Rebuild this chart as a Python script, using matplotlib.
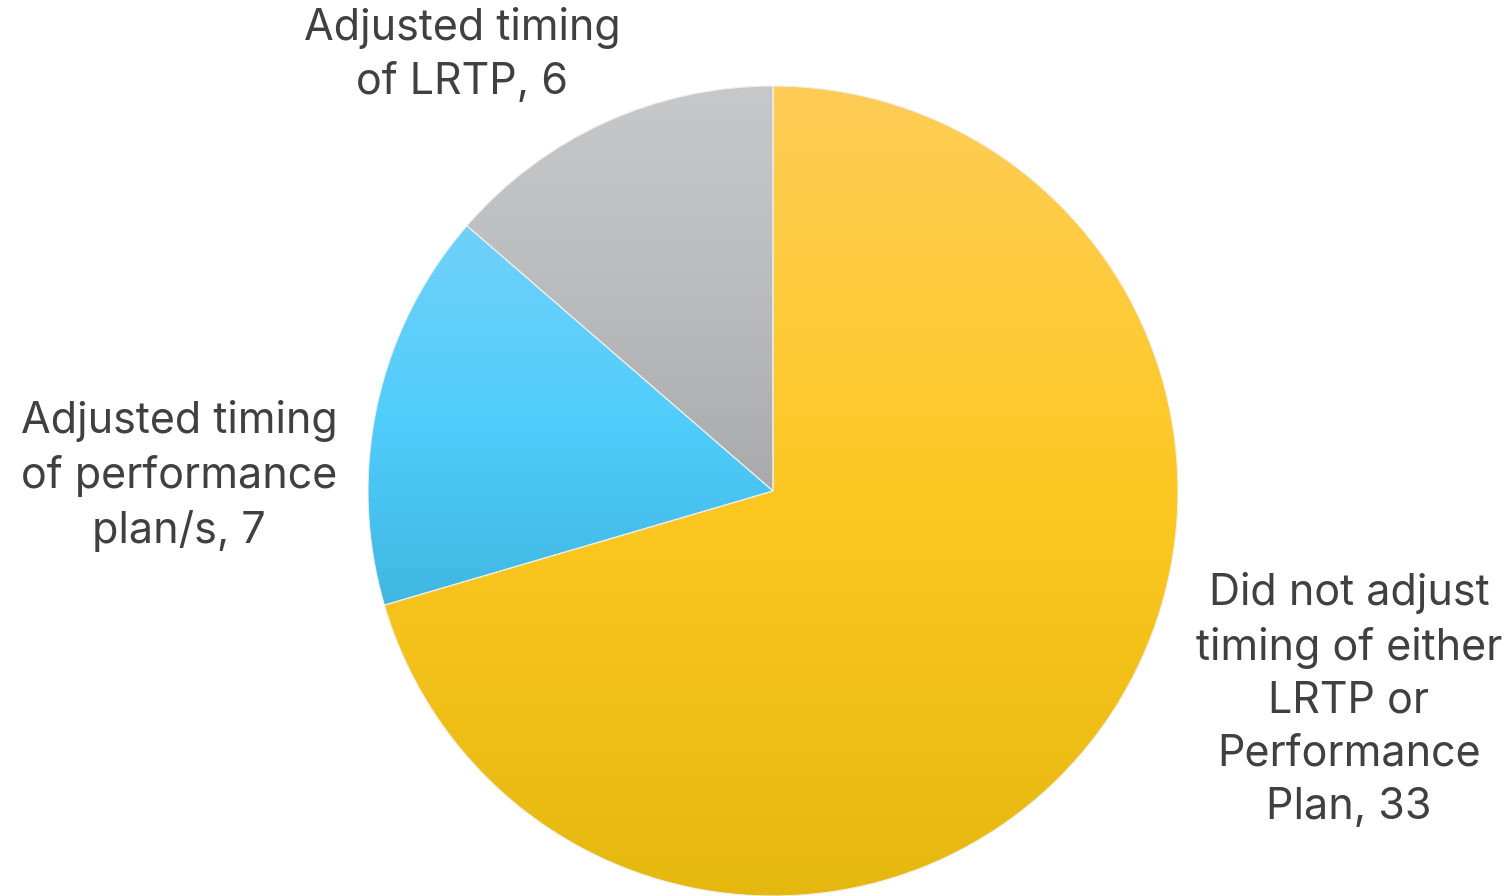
import numpy as np
import matplotlib
matplotlib.use("Agg")
import matplotlib.pyplot as plt
from matplotlib.colors import LinearSegmentedColormap

categories = ["Did not adjust\ntiming of either\nLRTP or\nPerformance\nPlan",
              "Adjusted timing\nof performance\nplan/s",
              "Adjusted timing\nof LRTP"]
# slice sizes as drawn in the reference (angles match 31 / 7 / 6)
values = [31, 7, 6]
# numbers printed in the labels
label_values = [33, 7, 6]
grad_top = ["#FFCD56", "#70D1F9", "#C7C8CA"]
grad_mid = ["#FDC822", "#51CDFD", "#BBBCBE"]
grad_bot = ["#E5B80F", "#3FB7E1", "#A9AAAC"]
label_pos_px = [(1349, 700), (179, 476), (462, 55)]

W, H = 1511, 896
fig = plt.figure(figsize=(W / 100, H / 100), dpi=100)
ax = fig.add_axes([0, 0, 1, 1])
R = 405.0
cx, cy = 773.0, H - 491.0

wedges, _ = ax.pie(values, startangle=90, counterclock=False, radius=R,
                   center=(cx, cy), frame=True,
                   wedgeprops=dict(linewidth=0.8, edgecolor="#EEEEEE"))
ax.set_xlim(0, W)
ax.set_ylim(0, H)
ax.set_aspect("equal")
ax.axis("off")

for i, w in enumerate(wedges):
    w.set_facecolor("none")
    path = w.get_path().transformed(w.get_patch_transform())
    verts = path.vertices
    ymin, ymax = verts[:, 1].min(), verts[:, 1].max()
    xmin, xmax = verts[:, 0].min(), verts[:, 0].max()
    cmap = LinearSegmentedColormap.from_list(f"g{i}", [grad_bot[i], grad_mid[i], grad_top[i]])
    grad = np.linspace(0, 1, 256).reshape(-1, 1)
    im = ax.imshow(grad, cmap=cmap, extent=(xmin, xmax, ymin, ymax), origin="lower",
                   aspect="auto", zorder=1, interpolation="bicubic")
    im.set_clip_path(w)
    w.set_zorder(2)

ax.set_xlim(0, W)
ax.set_ylim(0, H)

for i, (lab, v) in enumerate(zip(categories, label_values)):
    x, y = label_pos_px[i]
    ax.text(x, H - y, f"{lab}, {v}", ha="center", va="center", fontsize=31,
            color="#404040", family=["Inter", "DejaVu Sans"], linespacing=1.38, zorder=5)

fig.savefig("out.png", dpi=100)
